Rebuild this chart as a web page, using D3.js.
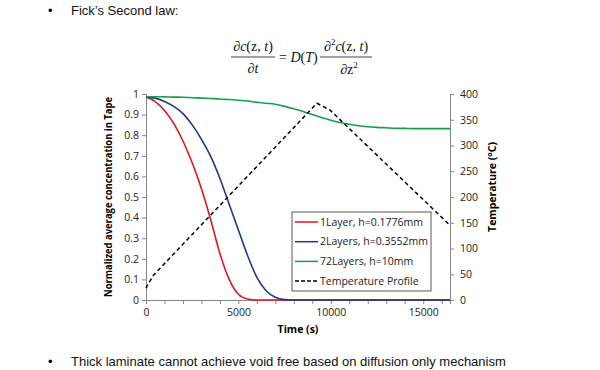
<!DOCTYPE html>
<meta charset="utf-8">
<script src="https://d3js.org/d3.v7.min.js"></script>
<style>
  body { margin: 0; background: #fff; }
  svg { display: block; }
</style>
<div id="my_dataviz"></div>
<script>

// time grid (s) shared by the three concentration curves
var times = [0, 500, 1000, 1500, 2000, 2500, 3000, 3500, 4000, 4500, 5000, 5500, 6000,
             6500, 7000, 7500, 8000, 8500, 9000, 9500, 10000, 10500, 11000, 11500,
             12000, 12500, 13000, 13500, 14000, 14500, 15000, 15500, 16000, 16450];

var layer1 = [0.985, 0.963, 0.92, 0.857, 0.772, 0.666, 0.54, 0.39, 0.225, 0.1, 0.028,
              0.005, 0, 0, 0, 0, 0, 0, 0, 0, 0, 0, 0, 0, 0, 0, 0, 0, 0, 0, 0, 0, 0, 0];
var layer2 = [0.985, 0.98, 0.964, 0.94, 0.905, 0.85, 0.78, 0.697, 0.59, 0.465, 0.34,
              0.215, 0.11, 0.045, 0.013, 0.002, 0, 0, 0, 0, 0, 0, 0, 0, 0, 0, 0, 0, 0,
              0, 0, 0, 0, 0];
var layer72 = [0.987, 0.987, 0.986, 0.985, 0.984, 0.982, 0.98, 0.978, 0.976, 0.973, 0.97,
               0.966, 0.96, 0.955, 0.95, 0.94, 0.928, 0.915, 0.9, 0.886, 0.873, 0.862,
               0.853, 0.846, 0.841, 0.838, 0.836, 0.834, 0.833, 0.832, 0.832, 0.832,
               0.832, 0.832];

// temperature profile (s, degC)
var tempTimes = [0, 150, 400, 9250, 9950, 16450];
var temps = [23, 33, 48, 382, 369, 145];

var seriesNames = ["1Layer, h=0.1776mm", "2Layers, h=0.3552mm", "72Layers, h=10mm", "Temperature Profile"];
var seriesColors = ["#e0161f", "#1a3a8a", "#14a046", "#000000"];

var xTicks = [0, 5000, 10000, 15000];
var xMinorTicks = d3.range(0, 16001, 1000);
var yLeftTicks = d3.range(0, 1.0001, 0.1);
var yRightTicks = d3.range(0, 401, 50);

var W = 600, H = 370;
var margin = {top: 94, right: 150, bottom: 70, left: 146};
var width = W - margin.left - margin.right,
    height = H - margin.top - margin.bottom;

var svg = d3.select("#my_dataviz")
  .append("svg")
    .attr("width", W)
    .attr("height", H);

// ---- slide text ----
var slideFont = "'Liberation Sans', Arial, sans-serif";
svg.append("text").attr("x", 48).attr("y", 15).attr("font-family", slideFont)
  .attr("font-size", 13).text("\u2022");
svg.append("text").attr("x", 71).attr("y", 15).attr("font-family", slideFont)
  .attr("font-size", 13).attr("fill", "#111").text("Fick\u2019s Second law:");
svg.append("text").attr("x", 48).attr("y", 366).attr("font-family", slideFont)
  .attr("font-size", 13).text("\u2022");
svg.append("text").attr("x", 71).attr("y", 366).attr("font-family", slideFont)
  .attr("font-size", 13).attr("fill", "#111")
  .text("Thick laminate cannot achieve void free based on diffusion only mechanism");

// ---- formula ----
var eq = svg.append("g").attr("font-family", "'Liberation Serif', 'DejaVu Serif', serif")
  .attr("font-size", 14).attr("fill", "#111");
function mathText(x, y, parts, anchor) {
  var t = eq.append("text").attr("x", x).attr("y", y).attr("text-anchor", anchor || "middle");
  var raised = false;
  parts.forEach(function(p) {
    var s = t.append("tspan").text(p[0]);
    if (p[1] === "i") s.attr("font-style", "italic");
    if (p[1] === "sup") { s.attr("font-size", 9).attr("dy", -6); raised = true; }
    else if (raised) { s.attr("dy", 6); raised = false; }
  });
  return t;
}
mathText(253, 51, [["\u2202"], ["c", "i"], ["(z, "], ["t", "i"], [")"]]);
eq.append("line").attr("x1", 231).attr("x2", 275).attr("y1", 57).attr("y2", 57)
  .attr("stroke", "#111").attr("stroke-width", 0.8);
mathText(253, 73, [["\u2202"], ["t", "i"]]);
mathText(279, 62, [["= "], ["D", "i"], ["("], ["T", "i"], [")"]], "start");
mathText(346, 51, [["\u2202"], ["2", "sup"], ["c", "i"], ["(z, "], ["t", "i"], [")"]]);
eq.append("line").attr("x1", 320).attr("x2", 372).attr("y1", 57).attr("y2", 57)
  .attr("stroke", "#111").attr("stroke-width", 0.8);
mathText(349, 74, [["\u2202z"], ["2", "sup"]]);

// ---- chart ----
var g = svg.append("g")
  .attr("transform", "translate(" + margin.left + "," + margin.top + ")");

var x = d3.scaleLinear().domain([0, 16450]).range([0, width]);
var y = d3.scaleLinear().domain([0, 1]).range([height, 0]);
var y2 = d3.scaleLinear().domain([0, 400]).range([height, 0]);

var axisFont = "'Open Sans', 'Noto Sans', sans-serif";
var axisColor = "#868686";

function styleAxis(sel) {
  sel.select(".domain").attr("stroke", axisColor);
  sel.selectAll(".tick line").attr("stroke", axisColor);
  sel.selectAll("text").attr("font-family", axisFont).attr("font-size", 10.5).attr("fill", "#222");
}

// x axis: minor ticks every 1000, labels every 5000
g.append("g")
  .attr("transform", "translate(0," + height + ")")
  .call(d3.axisBottom(x).tickValues(xMinorTicks).tickSizeOuter(0).tickSize(4)
        .tickFormat(function(d) { return xTicks.indexOf(d) >= 0 ? d : ""; }))
  .call(styleAxis)
  .selectAll("text").attr("dy", "0.9em");

g.append("g")
  .call(d3.axisLeft(y).tickValues(yLeftTicks).tickSizeOuter(0).tickSize(4)
        .tickFormat(function(d) { return d3.format("~g")(+d.toFixed(1)); }))
  .call(styleAxis);

g.append("g")
  .attr("transform", "translate(" + width + ",0)")
  .call(d3.axisRight(y2).tickValues(yRightTicks).tickSizeOuter(0).tickSize(4))
  .call(styleAxis)
  .selectAll("text").attr("x", 10);

// axis titles
g.append("text")
  .attr("transform", "translate(-34," + (height / 2) + ") rotate(-90)")
  .attr("text-anchor", "middle")
  .attr("font-family", axisFont).attr("font-weight", "bold").attr("font-size", 10.5)
  .attr("textLength", 200).attr("lengthAdjust", "spacingAndGlyphs")
  .text("Normalized average concentration in Tape");

var rt = g.append("text")
  .attr("transform", "translate(" + (width + 46) + "," + (height / 2 - 10) + ") rotate(-90)")
  .attr("text-anchor", "middle")
  .attr("font-family", axisFont).attr("font-weight", "bold").attr("font-size", 10.5);
rt.append("tspan").text("Temperature (");
rt.append("tspan").attr("font-size", 7).attr("dy", -4).text("o");
rt.append("tspan").attr("dy", 4).text("C)");

g.append("text")
  .attr("x", width / 2).attr("y", height + 33)
  .attr("text-anchor", "middle")
  .attr("font-family", axisFont).attr("font-weight", "bold").attr("font-size", 10.5)
  .text("Time (s)");

// lines
var line = d3.line()
  .x(function(d) { return x(d[0]); })
  .y(function(d) { return y(d[1]); })
  .curve(d3.curveMonotoneX);

[layer1, layer2, layer72].forEach(function(vals, i) {
  g.append("path")
    .datum(times.map(function(t, k) { return [t, vals[k]]; }))
    .attr("fill", "none")
    .attr("stroke", seriesColors[i])
    .attr("stroke-width", 1.6)
    .attr("d", line);
});

var tempLine = d3.line()
  .x(function(d) { return x(d[0]); })
  .y(function(d) { return y2(d[1]); });

g.append("path")
  .datum(tempTimes.map(function(t, k) { return [t, temps[k]]; }))
  .attr("fill", "none")
  .attr("stroke", "#000")
  .attr("stroke-width", 1.5)
  .attr("stroke-dasharray", "4,3")
  .attr("d", tempLine);

// legend
var legend = g.append("g").attr("transform", "translate(146,118)");
legend.append("rect")
  .attr("width", 139).attr("height", 79)
  .attr("fill", "#fff").attr("stroke", "#595959").attr("stroke-width", 1);
seriesNames.forEach(function(name, i) {
  var row = legend.append("g").attr("transform", "translate(0," + (10 + i * 19.7) + ")");
  row.append("line")
    .attr("x1", 3).attr("x2", 26)
    .attr("stroke", seriesColors[i])
    .attr("stroke-width", 1.5)
    .attr("stroke-dasharray", i === 3 ? "4,2" : null);
  row.append("text")
    .attr("x", 28).attr("dy", "0.35em")
    .attr("font-family", axisFont).attr("font-size", 10.5).attr("fill", "#222")
    .text(name);
});

</script>
